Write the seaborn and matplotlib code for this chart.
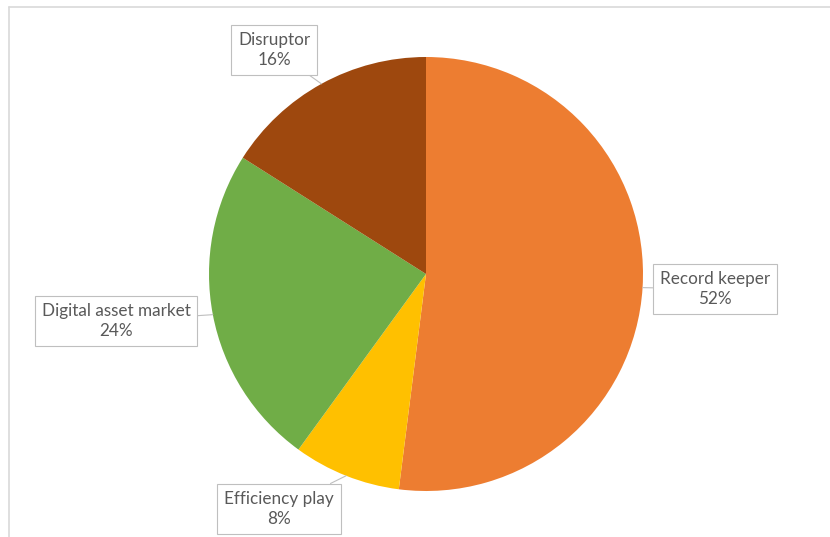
import numpy as np
import matplotlib.pyplot as plt
from matplotlib.lines import Line2D
import seaborn as sns

# data
segments = ['Record keeper', 'Efficiency play', 'Digital asset market', 'Disruptor']
shares = [52, 8, 24, 16]

sns.set_theme(style='white')
plt.rcParams['font.family'] = ['Lato', 'DejaVu Sans']

palette = ['#ED7D31', '#FFC000', '#70AD47', '#9E480E']

W, H = 830, 537
fig = plt.figure(figsize=(W / 100, H / 100), dpi=100)
ax = fig.add_axes([0, 0, 1, 1])

cx, cy, r = 426, H - 274, 217
wedges, _ = ax.pie(shares, colors=palette, startangle=90, counterclock=False,
                   center=(cx, cy), radius=r, frame=True,
                   wedgeprops={'linewidth': 0})
ax.set_xlim(0, W)
ax.set_ylim(0, H)
ax.set_aspect('equal')
ax.axis('off')

# callout box centres (pixels from top-left)
box_pos = [(715, 289), (279, 509), (116, 321), (274, 50)]

for w, lab, val, (bx, by) in zip(wedges, segments, shares, box_pos):
    mid = np.deg2rad((w.theta1 + w.theta2) / 2)
    px, py = cx + r * np.cos(mid), cy + r * np.sin(mid)
    ax.annotate(f'{lab}\n{val}%', xy=(px, py), xytext=(bx, H - by),
                ha='center', va='center', fontsize=12.3, color='#595959',
                linespacing=1.35,
                bbox=dict(boxstyle='square,pad=0.4', fc='white', ec='#BFBFBF', lw=0.8),
                arrowprops=dict(arrowstyle='-', color='#BFBFBF', lw=0.8,
                                shrinkA=0, shrinkB=0))

# chart area border (cropped on right and bottom)
fig.add_artist(Line2D([9 / W, 9 / W], [0, 1 - 7 / H], color='#D9D9D9', lw=1.2))
fig.add_artist(Line2D([9 / W, 1], [1 - 7 / H, 1 - 7 / H], color='#D9D9D9', lw=1.2))

plt.savefig('out.png', dpi=100)
